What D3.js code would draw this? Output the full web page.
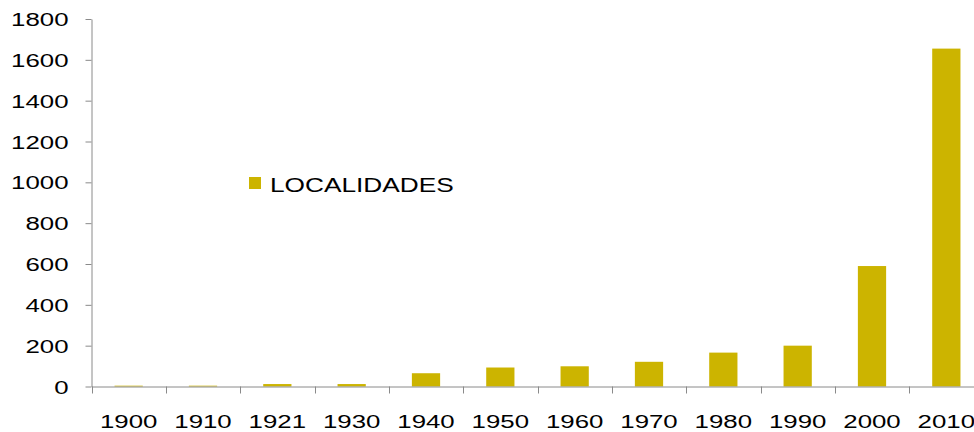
<!DOCTYPE html>
<html>
<head>
<meta charset="utf-8">
<script src="https://cdn.jsdelivr.net/npm/d3@7"></script>
<style>
  html, body { margin: 0; padding: 0; background: #fff; }
  svg { display: block; }
  text { font-family: "Liberation Sans", Arial, sans-serif; fill: #000; }
</style>
</head>
<body>
<svg id="chart" width="974" height="432"></svg>
<script>
const categories = ["1900","1910","1921","1930","1940","1950","1960","1970","1980","1990","2000","2010"];
const localidades = [4, 4, 12, 12, 65, 93, 99, 121, 166, 200, 590, 1655];
const yTicks = [0, 200, 400, 600, 800, 1000, 1200, 1400, 1600, 1800];
const seriesName = "LOCALIDADES";

(function () {
const svg = d3.select("#chart");
const W = 974, H = 432;
const mLeft = 91.5, mRight = 983.5, mTop = 19, mBottom = 386.5;
const barColor = "#ccb400";
const axisColor = "#8a8a8a";
const sx = 1.36;

const x = d3.scaleBand().domain(categories).range([mLeft, mRight]).padding(0);
const y = d3.scaleLinear().domain([0, 1800]).range([mBottom, mTop]);
const barW = x.bandwidth() * 0.38;

svg.append("defs").append("clipPath").attr("id", "clip")
  .append("rect").attr("x", 0).attr("y", 0).attr("width", W).attr("height", H);
const g = svg.append("g").attr("clip-path", "url(#clip)");

// bars
g.append("g").selectAll("rect").data(categories).join("rect")
  .attr("x", (d) => x(d) + (x.bandwidth() - barW) / 2)
  .attr("width", barW)
  .attr("y", (d, i) => y(localidades[i]))
  .attr("height", (d, i) => y(0) - y(localidades[i]))
  .attr("fill", barColor);

// y axis
const yAxis = g.append("g").attr("transform", `translate(${mLeft},0)`)
  .call(d3.axisLeft(y).tickValues(yTicks).tickSize(6).tickSizeOuter(0).tickFormat(d3.format("d")));
yAxis.select(".domain").attr("stroke", axisColor);
yAxis.selectAll(".tick line").attr("stroke", axisColor);
yAxis.selectAll(".tick text")
  .attr("font-size", 19).attr("font-family", "Liberation Sans, Arial, sans-serif")
  .attr("text-anchor", "end")
  .attr("x", -23 / sx).attr("dy", "0.35em")
  .attr("transform", `scale(${sx},1)`);

// x axis (labels centred in bands, ticks at band boundaries)
const xAxis = g.append("g").attr("transform", `translate(0,${mBottom})`)
  .call(d3.axisBottom(x).tickSize(0).tickSizeOuter(0));
xAxis.select(".domain").attr("stroke", axisColor);
xAxis.selectAll(".tick text")
  .attr("font-size", 19).attr("font-family", "Liberation Sans, Arial, sans-serif")
  .attr("y", 41.5).attr("dy", 0)
  .attr("transform", `scale(${sx},1)`)
  .attr("x", 0);
const bounds = categories.map((d) => x(d)).concat([x.range()[1]]);
g.append("g").selectAll("line").data(bounds).join("line")
  .attr("x1", (d) => Math.round(d) + 0.5).attr("x2", (d) => Math.round(d) + 0.5)
  .attr("y1", mBottom).attr("y2", mBottom + 7)
  .attr("stroke", axisColor);

// legend
const lsx = 1.25;
const leg = svg.append("g");
leg.append("rect").attr("x", 249).attr("y", 177).attr("width", 12).attr("height", 12).attr("fill", barColor);
leg.append("text").attr("x", 270 / lsx).attr("y", 192.5)
  .attr("transform", `scale(${lsx},1)`)
  .attr("font-size", 21).text(seriesName);
})();
</script>
</body>
</html>
